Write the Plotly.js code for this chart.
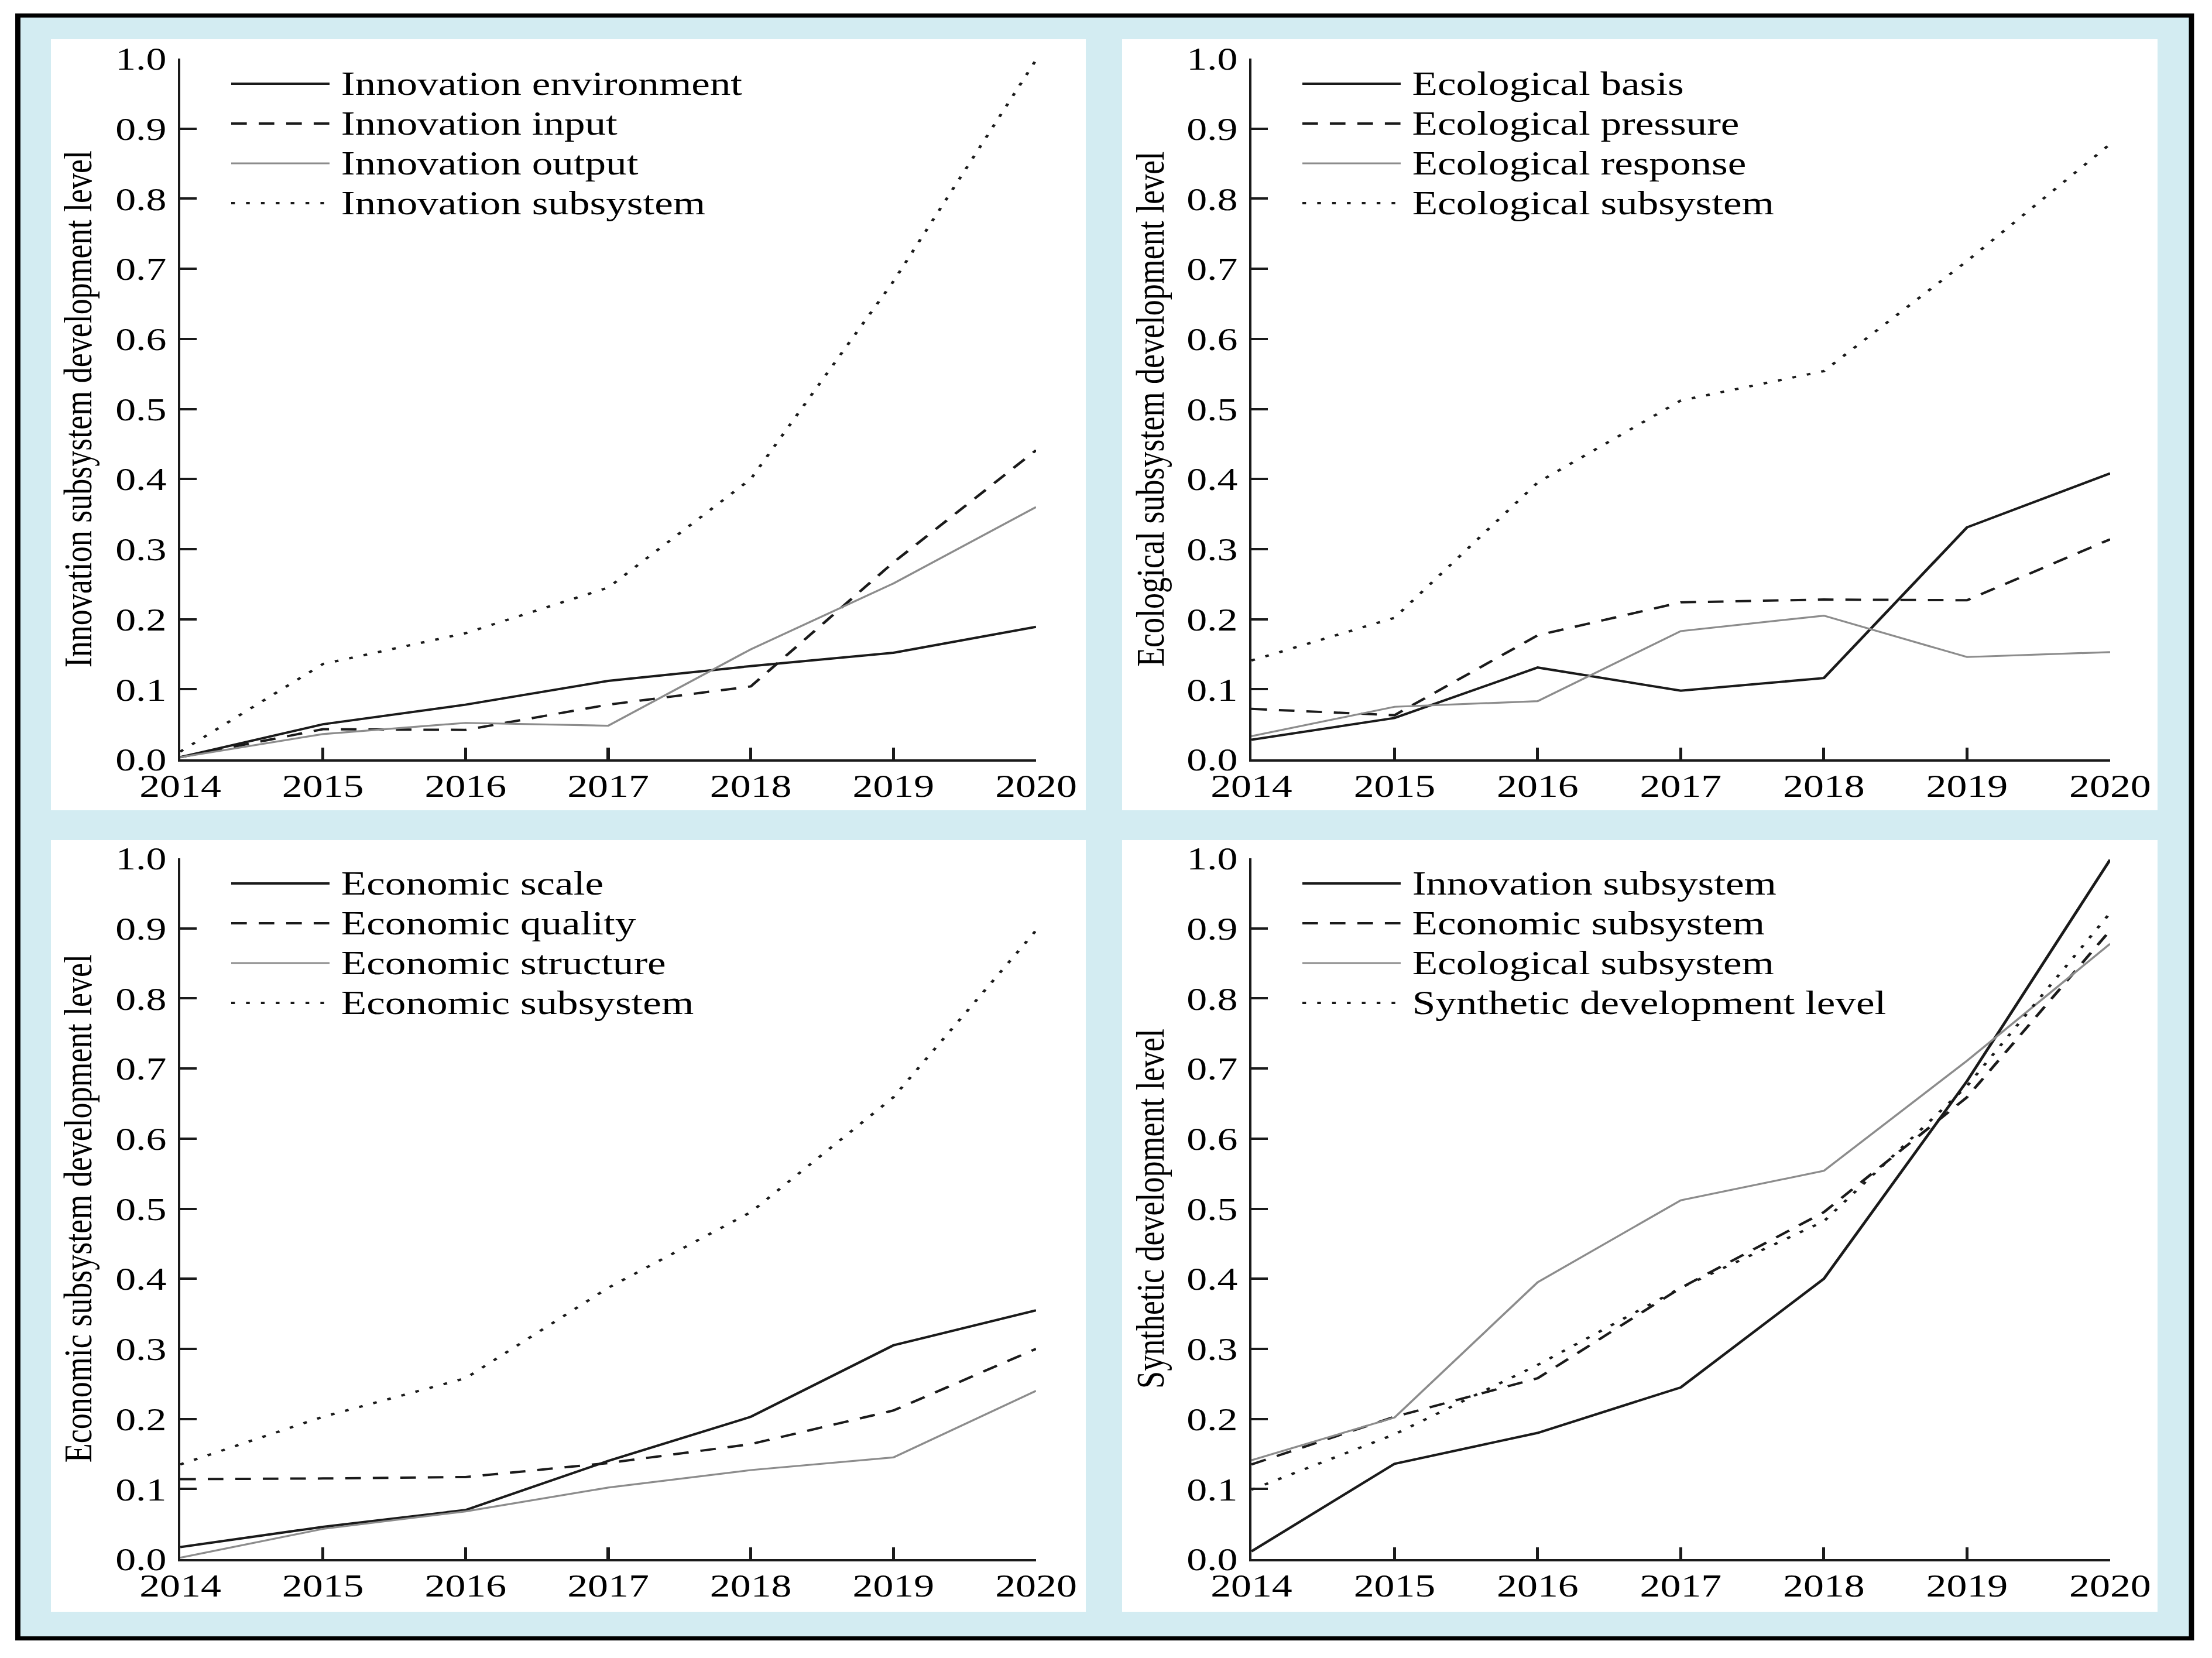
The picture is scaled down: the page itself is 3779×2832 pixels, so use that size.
<!DOCTYPE html>
<html><head><meta charset="utf-8">
<script src="https://cdn.plot.ly/plotly-3.0.1.min.js"></script>
<style>
html,body{margin:0;padding:0;background:#fff;overflow:hidden;}
#chart{width:2976px;height:2832px;transform:scaleX(1.2698);transform-origin:0 0;}
</style>
</head><body><div id="chart"></div><script>
// ---------- data ----------
const years = [2014, 2015, 2016, 2017, 2018, 2019, 2020];
const yTickVals = [0, 0.1, 0.2, 0.3, 0.4, 0.5, 0.6, 0.7, 0.8, 0.9, 1.0];

const innovationEnvironment = [0.003, 0.050, 0.078, 0.112, 0.133, 0.152, 0.189];
const innovationInput       = [0.003, 0.043, 0.042, 0.078, 0.104, 0.281, 0.441];
const innovationOutput      = [0.003, 0.036, 0.052, 0.048, 0.157, 0.251, 0.360];
const innovationSubsystem   = [0.011, 0.136, 0.180, 0.245, 0.400, 0.682, 0.998];

const ecologicalBasis       = [0.028, 0.059, 0.131, 0.098, 0.116, 0.331, 0.408];
const ecologicalPressure    = [0.072, 0.063, 0.177, 0.224, 0.228, 0.227, 0.314];
const ecologicalResponse    = [0.033, 0.075, 0.083, 0.183, 0.205, 0.146, 0.153];
const ecologicalSubsystem   = [0.141, 0.202, 0.395, 0.512, 0.554, 0.711, 0.878];

const economicScale         = [0.017, 0.046, 0.070, 0.140, 0.203, 0.305, 0.355];
const economicQuality       = [0.114, 0.115, 0.117, 0.137, 0.164, 0.212, 0.300];
const economicStructure     = [0.002, 0.043, 0.068, 0.102, 0.127, 0.145, 0.240];
const economicSubsystem     = [0.135, 0.203, 0.258, 0.387, 0.495, 0.659, 0.897];

const syntheticLevel        = [0.099, 0.178, 0.277, 0.387, 0.482, 0.675, 0.922];

const innovationNames = ['Innovation environment', 'Innovation input', 'Innovation output', 'Innovation subsystem'];
const ecologicalNames = ['Ecological basis', 'Ecological pressure', 'Ecological response', 'Ecological subsystem'];
const economicNames   = ['Economic scale', 'Economic quality', 'Economic structure', 'Economic subsystem'];
const syntheticNames  = ['Innovation subsystem', 'Economic subsystem', 'Ecological subsystem', 'Synthetic development level'];

const axisTitles = [
  'Innovation subsystem development level',
  'Ecological subsystem development level',
  'Economic subsystem development level',
  'Synthetic development level'
];

// ---------- styles / layout helpers ----------
const W = 3779, H = 2832;
const fx = p => p / W;
const fy = p => 1 - p / H;
const FONT = 'Liberation Serif, Times New Roman, serif';
const INK = '#1a1a1a';
const BLUE = '#d3ecf2';
const lineStyles = [
  {color: INK, width: 4, dash: 'solid'},
  {color: INK, width: 4, dash: '21px,16px'},
  {color: '#8c8c8c', width: 3.2, dash: 'solid'},
  {color: INK, width: 4, dash: '5px,15px'}
];

const panels = [
  {x0: 308,  x1: 1770, y0: 1297, y1: 100,  titleX: 133,
   names: innovationNames, series: [innovationEnvironment, innovationInput, innovationOutput, innovationSubsystem]},
  {x0: 2138, x1: 3605, y0: 1297, y1: 100,  titleX: 1965,
   names: ecologicalNames, series: [ecologicalBasis, ecologicalPressure, ecologicalResponse, ecologicalSubsystem]},
  {x0: 308,  x1: 1770, y0: 2663, y1: 1466, titleX: 133,
   names: economicNames, series: [economicScale, economicQuality, economicStructure, economicSubsystem]},
  {x0: 2138, x1: 3605, y0: 2663, y1: 1466, titleX: 1965,
   names: syntheticNames, series: [innovationSubsystem, economicSubsystem, ecologicalSubsystem, syntheticLevel]}
];

const whitePanels = [
  [87, 67, 1855, 1384], [1917, 67, 3686, 1384],
  [87, 1435, 1855, 2753], [1917, 1435, 3686, 2753]
];

const traces = [];
const shapes = [];
const annotations = [];
const layout = {
  width: 2976, height: 2832,
  margin: {l: 0, r: 0, t: 0, b: 0, pad: 0},
  paper_bgcolor: '#ffffff', plot_bgcolor: 'rgba(0,0,0,0)',
  showlegend: false,
  font: {family: FONT, color: '#000000', size: 55}
};

// background frame
shapes.push({type: 'rect', xref: 'paper', yref: 'paper', layer: 'below',
  x0: fx(30.5), x1: fx(3744), y0: fy(26.5), y1: fy(2798.5),
  fillcolor: BLUE, line: {color: '#000000', width: 7}});
whitePanels.forEach(r => shapes.push({type: 'rect', xref: 'paper', yref: 'paper', layer: 'below',
  x0: fx(r[0]), x1: fx(r[2]), y0: fy(r[3]), y1: fy(r[1]),
  fillcolor: '#ffffff', line: {width: 0}}));

panels.forEach((p, i) => {
  const n = i === 0 ? '' : String(i + 1);
  const xa = 'x' + n, ya = 'y' + n;
  layout['xaxis' + n] = {
    domain: [fx(p.x0), fx(p.x1)], range: [2014, 2020], anchor: ya,
    tickmode: 'array', tickvals: years, ticktext: years.map(String),
    ticks: 'inside', ticklen: 20, tickwidth: 4, tickcolor: INK,
    showline: true, linewidth: 4, linecolor: INK,
    showgrid: false, zeroline: false, fixedrange: true,
    tickfont: {family: FONT, size: 55, color: '#000'}, ticklabelstandoff: -6
  };
  layout['yaxis' + n] = {
    domain: [fy(p.y0), fy(p.y1)], range: [0, 1], anchor: xa,
    tickmode: 'array', tickvals: yTickVals, ticktext: yTickVals.map(v => v.toFixed(1)),
    ticks: 'inside', ticklen: 22, tickwidth: 4, tickcolor: INK,
    showline: true, linewidth: 3.5, linecolor: INK,
    showgrid: false, zeroline: false, fixedrange: true,
    tickfont: {family: FONT, size: 55, color: '#000'}, ticklabelstandoff: 4
  };
  p.series.forEach((s, k) => {
    traces.push({type: 'scatter', mode: 'lines', x: years, y: s, name: p.names[k],
      xaxis: xa, yaxis: ya, line: Object.assign({shape: 'linear'}, lineStyles[k]), hoverinfo: 'skip'});
    const rowY = p.y1 + 43 + k * 68;
    shapes.push({type: 'line', xref: 'paper', yref: 'paper',
      x0: fx(p.x0 + 87), x1: fx(p.x0 + 255), y0: fy(rowY), y1: fy(rowY),
      line: lineStyles[k]});
    annotations.push({xref: 'paper', yref: 'paper', x: fx(p.x0 + 272), y: fy(rowY),
      xanchor: 'left', yanchor: 'middle', showarrow: false, text: p.names[k],
      font: {family: FONT, size: 56, color: '#000'}});
  });
  annotations.push({xref: 'paper', yref: 'paper', x: fx(p.titleX), y: fy((p.y0 + p.y1) / 2),
    xanchor: 'center', yanchor: 'middle', showarrow: false, textangle: -90,
    text: axisTitles[i], font: {family: FONT, size: 54, color: '#000'}});
});

layout.shapes = shapes;
layout.annotations = annotations;
Plotly.newPlot('chart', traces, layout, {staticPlot: true, displayModeBar: false});
</script></body></html>
